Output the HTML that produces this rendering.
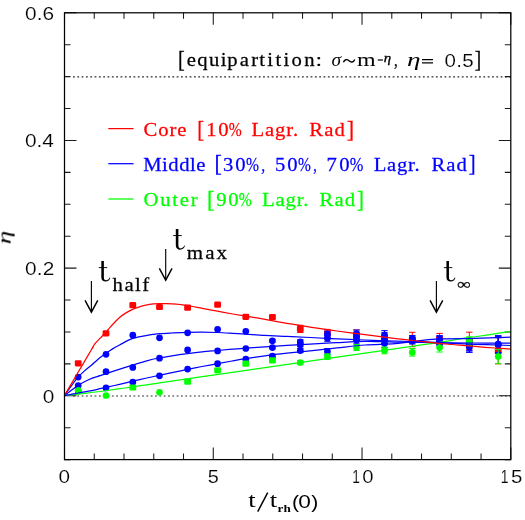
<!DOCTYPE html>
<html><head><meta charset="utf-8"><title>eta vs t</title>
<style>html,body{margin:0;padding:0;background:#fff;}svg{display:block;}</style></head>
<body>
<svg width="525" height="520" viewBox="0 0 525 520">
<rect x="0" y="0" width="525" height="520" fill="#fff"/>
<g style="will-change:opacity" opacity="0.999">
<line x1="73" y1="76.88" x2="510.8" y2="76.88" stroke="#2a2a2a" stroke-width="1.05" stroke-dasharray="1.8 2.52"/>
<line x1="73" y1="396.07" x2="510.8" y2="396.07" stroke="#2a2a2a" stroke-width="1.05" stroke-dasharray="1.8 2.52"/>
<path d="M64.5,459.6v-12M64.5,12.8v12M94.25,459.6v-6M94.25,12.8v6M124.01,459.6v-6M124.01,12.8v6M153.76,459.6v-6M153.76,12.8v6M183.51,459.6v-6M183.51,12.8v6M213.27,459.6v-12M213.27,12.8v12M243.02,459.6v-6M243.02,12.8v6M272.77,459.6v-6M272.77,12.8v6M302.53,459.6v-6M302.53,12.8v6M332.28,459.6v-6M332.28,12.8v6M362.03,459.6v-12M362.03,12.8v12M391.79,459.6v-6M391.79,12.8v6M421.54,459.6v-6M421.54,12.8v6M451.29,459.6v-6M451.29,12.8v6M481.05,459.6v-6M481.05,12.8v6M510.8,459.6v-12M510.8,12.8v12M64.5,459.6h6M510.8,459.6h-6M64.5,427.69h6M510.8,427.69h-6M64.5,395.77h12M510.8,395.77h-12M64.5,363.86h6M510.8,363.86h-6M64.5,331.94h6M510.8,331.94h-6M64.5,300.03h6M510.8,300.03h-6M64.5,268.11h12M510.8,268.11h-12M64.5,236.2h6M510.8,236.2h-6M64.5,204.29h6M510.8,204.29h-6M64.5,172.37h6M510.8,172.37h-6M64.5,140.46h12M510.8,140.46h-12M64.5,108.54h6M510.8,108.54h-6M64.5,76.63h6M510.8,76.63h-6M64.5,44.71h6M510.8,44.71h-6M64.5,12.8h12M510.8,12.8h-12" stroke="#1a1a1a" stroke-width="1.05" fill="none"/>
<rect x="74.8" y="360.2" width="6.8" height="6.2" rx="1.3" fill="#ff0000"/>
<rect x="102.6" y="330.2" width="6.8" height="6.2" rx="1.3" fill="#ff0000"/>
<rect x="129.4" y="302.1" width="6.8" height="6.2" rx="1.3" fill="#ff0000"/>
<rect x="156.1" y="303.9" width="6.8" height="6.2" rx="1.3" fill="#ff0000"/>
<rect x="184.2" y="304.5" width="6.8" height="6.2" rx="1.3" fill="#ff0000"/>
<rect x="214.2" y="301.6" width="6.8" height="6.2" rx="1.3" fill="#ff0000"/>
<rect x="242.4" y="313.7" width="6.8" height="6.2" rx="1.3" fill="#ff0000"/>
<path d="M272.4,315.6V318.6M269.2,315.6h6.4M269.2,318.6h6.4" stroke="#ff0000" stroke-width="1" fill="none"/>
<rect x="269" y="314" width="6.8" height="6.2" rx="1.3" fill="#ff0000"/>
<path d="M300.3,325.3V332.5M297.1,325.3h6.4M297.1,332.5h6.4" stroke="#ff0000" stroke-width="1" fill="none"/>
<rect x="296.9" y="325.8" width="6.8" height="6.2" rx="1.3" fill="#ff0000"/>
<path d="M327.4,329.4V337.4M324.2,329.4h6.4M324.2,337.4h6.4" stroke="#ff0000" stroke-width="1" fill="none"/>
<rect x="324" y="330.3" width="6.8" height="6.2" rx="1.3" fill="#ff0000"/>
<path d="M356.5,329.9V339.1M353.3,329.9h6.4M353.3,339.1h6.4" stroke="#ff0000" stroke-width="1" fill="none"/>
<rect x="353.1" y="331.4" width="6.8" height="6.2" rx="1.3" fill="#ff0000"/>
<path d="M384.5,332.5V343.5M381.3,332.5h6.4M381.3,343.5h6.4" stroke="#ff0000" stroke-width="1" fill="none"/>
<rect x="381.1" y="334.9" width="6.8" height="6.2" rx="1.3" fill="#ff0000"/>
<path d="M412.3,332.3V346.7M409.1,332.3h6.4M409.1,346.7h6.4" stroke="#ff0000" stroke-width="1" fill="none"/>
<rect x="408.9" y="336.4" width="6.8" height="6.2" rx="1.3" fill="#ff0000"/>
<path d="M439.6,333.4V344.6M436.4,333.4h6.4M436.4,344.6h6.4" stroke="#ff0000" stroke-width="1" fill="none"/>
<rect x="436.2" y="335.9" width="6.8" height="6.2" rx="1.3" fill="#ff0000"/>
<path d="M469.3,332.2V349.8M466.1,332.2h6.4M466.1,349.8h6.4" stroke="#ff0000" stroke-width="1" fill="none"/>
<rect x="465.9" y="337.9" width="6.8" height="6.2" rx="1.3" fill="#ff0000"/>
<path d="M498.2,337.8V363.8M495,337.8h6.4M495,363.8h6.4" stroke="#ff0000" stroke-width="1" fill="none"/>
<rect x="494.8" y="347.7" width="6.8" height="6.2" rx="1.3" fill="#ff0000"/>
<circle cx="78.2" cy="377.1" r="3.35" fill="#0000ff"/>
<circle cx="106" cy="354.3" r="3.35" fill="#0000ff"/>
<circle cx="132.8" cy="335.2" r="3.35" fill="#0000ff"/>
<circle cx="159.5" cy="337.8" r="3.35" fill="#0000ff"/>
<circle cx="187.6" cy="332.8" r="3.35" fill="#0000ff"/>
<circle cx="217.6" cy="329.3" r="3.35" fill="#0000ff"/>
<circle cx="245.8" cy="331.3" r="3.35" fill="#0000ff"/>
<path d="M272.4,339.6V342M269.2,339.6h6.4M269.2,342h6.4" stroke="#0000ff" stroke-width="1" fill="none"/>
<circle cx="272.4" cy="340.8" r="3.35" fill="#0000ff"/>
<path d="M300.3,339.9V343.9M297.1,339.9h6.4M297.1,343.9h6.4" stroke="#0000ff" stroke-width="1" fill="none"/>
<circle cx="300.3" cy="341.9" r="3.35" fill="#0000ff"/>
<path d="M327.4,331.2V337.2M324.2,331.2h6.4M324.2,337.2h6.4" stroke="#0000ff" stroke-width="1" fill="none"/>
<circle cx="327.4" cy="334.2" r="3.35" fill="#0000ff"/>
<path d="M356.5,330V337.2M353.3,330h6.4M353.3,337.2h6.4" stroke="#0000ff" stroke-width="1" fill="none"/>
<circle cx="356.5" cy="333.6" r="3.35" fill="#0000ff"/>
<path d="M384.5,330.6V339M381.3,330.6h6.4M381.3,339h6.4" stroke="#0000ff" stroke-width="1" fill="none"/>
<circle cx="384.5" cy="334.8" r="3.35" fill="#0000ff"/>
<path d="M412.3,335.5V341.5M409.1,335.5h6.4M409.1,341.5h6.4" stroke="#0000ff" stroke-width="1" fill="none"/>
<circle cx="412.3" cy="338.5" r="3.35" fill="#0000ff"/>
<path d="M439.6,335.6V344.4M436.4,335.6h6.4M436.4,344.4h6.4" stroke="#0000ff" stroke-width="1" fill="none"/>
<circle cx="439.6" cy="340" r="3.35" fill="#0000ff"/>
<path d="M469.3,341.1V351.9M466.1,341.1h6.4M466.1,351.9h6.4" stroke="#0000ff" stroke-width="1" fill="none"/>
<circle cx="469.3" cy="346.5" r="3.35" fill="#0000ff"/>
<path d="M498.2,335.6V352.4M495,335.6h6.4M495,352.4h6.4" stroke="#0000ff" stroke-width="1" fill="none"/>
<circle cx="498.2" cy="344" r="3.35" fill="#0000ff"/>
<circle cx="78.2" cy="385.5" r="3.35" fill="#0000ff"/>
<circle cx="106" cy="371.7" r="3.35" fill="#0000ff"/>
<circle cx="132.8" cy="367.4" r="3.35" fill="#0000ff"/>
<circle cx="159.5" cy="358.2" r="3.35" fill="#0000ff"/>
<circle cx="187.6" cy="349.9" r="3.35" fill="#0000ff"/>
<circle cx="217.6" cy="350.9" r="3.35" fill="#0000ff"/>
<circle cx="245.8" cy="348.5" r="3.35" fill="#0000ff"/>
<path d="M272.4,346.4V348.8M269.2,346.4h6.4M269.2,348.8h6.4" stroke="#0000ff" stroke-width="1" fill="none"/>
<circle cx="272.4" cy="347.6" r="3.35" fill="#0000ff"/>
<path d="M300.3,342.8V346.8M297.1,342.8h6.4M297.1,346.8h6.4" stroke="#0000ff" stroke-width="1" fill="none"/>
<circle cx="300.3" cy="344.8" r="3.35" fill="#0000ff"/>
<path d="M327.4,335.3V341.3M324.2,335.3h6.4M324.2,341.3h6.4" stroke="#0000ff" stroke-width="1" fill="none"/>
<circle cx="327.4" cy="338.3" r="3.35" fill="#0000ff"/>
<path d="M356.5,333.4V340.6M353.3,333.4h6.4M353.3,340.6h6.4" stroke="#0000ff" stroke-width="1" fill="none"/>
<circle cx="356.5" cy="337" r="3.35" fill="#0000ff"/>
<path d="M384.5,335.8V344.2M381.3,335.8h6.4M381.3,344.2h6.4" stroke="#0000ff" stroke-width="1" fill="none"/>
<circle cx="384.5" cy="340" r="3.35" fill="#0000ff"/>
<path d="M412.3,337V343M409.1,337h6.4M409.1,343h6.4" stroke="#0000ff" stroke-width="1" fill="none"/>
<circle cx="412.3" cy="340" r="3.35" fill="#0000ff"/>
<path d="M439.6,336.1V344.9M436.4,336.1h6.4M436.4,344.9h6.4" stroke="#0000ff" stroke-width="1" fill="none"/>
<circle cx="439.6" cy="340.5" r="3.35" fill="#0000ff"/>
<path d="M469.3,339.6V350.4M466.1,339.6h6.4M466.1,350.4h6.4" stroke="#0000ff" stroke-width="1" fill="none"/>
<circle cx="469.3" cy="345" r="3.35" fill="#0000ff"/>
<path d="M498.2,336.1V352.9M495,336.1h6.4M495,352.9h6.4" stroke="#0000ff" stroke-width="1" fill="none"/>
<circle cx="498.2" cy="344.5" r="3.35" fill="#0000ff"/>
<circle cx="78.2" cy="391" r="3.35" fill="#0000ff"/>
<circle cx="106" cy="387.9" r="3.35" fill="#0000ff"/>
<circle cx="132.8" cy="382.2" r="3.35" fill="#0000ff"/>
<circle cx="159.5" cy="375.8" r="3.35" fill="#0000ff"/>
<circle cx="187.6" cy="369.1" r="3.35" fill="#0000ff"/>
<circle cx="217.6" cy="363.7" r="3.35" fill="#0000ff"/>
<circle cx="245.8" cy="359.2" r="3.35" fill="#0000ff"/>
<path d="M272.4,355V357.4M269.2,355h6.4M269.2,357.4h6.4" stroke="#0000ff" stroke-width="1" fill="none"/>
<circle cx="272.4" cy="356.2" r="3.35" fill="#0000ff"/>
<path d="M300.3,348.6V352.6M297.1,348.6h6.4M297.1,352.6h6.4" stroke="#0000ff" stroke-width="1" fill="none"/>
<circle cx="300.3" cy="350.6" r="3.35" fill="#0000ff"/>
<path d="M327.4,348.5V354.5M324.2,348.5h6.4M324.2,354.5h6.4" stroke="#0000ff" stroke-width="1" fill="none"/>
<circle cx="327.4" cy="351.5" r="3.35" fill="#0000ff"/>
<path d="M356.5,336.6V343.8M353.3,336.6h6.4M353.3,343.8h6.4" stroke="#0000ff" stroke-width="1" fill="none"/>
<circle cx="356.5" cy="340.2" r="3.35" fill="#0000ff"/>
<path d="M384.5,339.3V347.7M381.3,339.3h6.4M381.3,347.7h6.4" stroke="#0000ff" stroke-width="1" fill="none"/>
<circle cx="384.5" cy="343.5" r="3.35" fill="#0000ff"/>
<path d="M412.3,338V344M409.1,338h6.4M409.1,344h6.4" stroke="#0000ff" stroke-width="1" fill="none"/>
<circle cx="412.3" cy="341" r="3.35" fill="#0000ff"/>
<path d="M439.6,336.6V345.4M436.4,336.6h6.4M436.4,345.4h6.4" stroke="#0000ff" stroke-width="1" fill="none"/>
<circle cx="439.6" cy="341" r="3.35" fill="#0000ff"/>
<path d="M469.3,341.6V352.4M466.1,341.6h6.4M466.1,352.4h6.4" stroke="#0000ff" stroke-width="1" fill="none"/>
<circle cx="469.3" cy="347" r="3.35" fill="#0000ff"/>
<path d="M498.2,336.6V353.4M495,336.6h6.4M495,353.4h6.4" stroke="#0000ff" stroke-width="1" fill="none"/>
<circle cx="498.2" cy="345" r="3.35" fill="#0000ff"/>
<circle cx="78.2" cy="390.3" r="3.35" fill="#00ff00"/>
<circle cx="106" cy="395.5" r="3.35" fill="#00ff00"/>
<rect x="129.4" y="384.4" width="6.8" height="6.2" rx="1.3" fill="#00ff00"/>
<circle cx="159.5" cy="392.3" r="3.35" fill="#00ff00"/>
<rect x="184.2" y="378.6" width="6.8" height="6.2" rx="1.3" fill="#00ff00"/>
<rect x="214.2" y="367.2" width="6.8" height="6.2" rx="1.3" fill="#00ff00"/>
<rect x="242.4" y="360.6" width="6.8" height="6.2" rx="1.3" fill="#00ff00"/>
<path d="M272.4,359.2V361.6M269.2,359.2h6.4M269.2,361.6h6.4" stroke="#00ff00" stroke-width="1" fill="none"/>
<rect x="269" y="357.3" width="6.8" height="6.2" rx="1.3" fill="#00ff00"/>
<path d="M300.3,360.5V364.5M297.1,360.5h6.4M297.1,364.5h6.4" stroke="#00ff00" stroke-width="1" fill="none"/>
<circle cx="300.3" cy="362.5" r="3.35" fill="#00ff00"/>
<path d="M327.4,354.1V359.3M324.2,354.1h6.4M324.2,359.3h6.4" stroke="#00ff00" stroke-width="1" fill="none"/>
<circle cx="327.4" cy="356.7" r="3.35" fill="#00ff00"/>
<path d="M356.5,344.5V350.5M353.3,344.5h6.4M353.3,350.5h6.4" stroke="#00ff00" stroke-width="1" fill="none"/>
<circle cx="356.5" cy="347.5" r="3.35" fill="#00ff00"/>
<path d="M384.5,347V353.8M381.3,347h6.4M381.3,353.8h6.4" stroke="#00ff00" stroke-width="1" fill="none"/>
<circle cx="384.5" cy="350.4" r="3.35" fill="#00ff00"/>
<path d="M412.3,348.5V356.1M409.1,348.5h6.4M409.1,356.1h6.4" stroke="#00ff00" stroke-width="1" fill="none"/>
<circle cx="412.3" cy="352.3" r="3.35" fill="#00ff00"/>
<path d="M439.6,343.2V352M436.4,343.2h6.4M436.4,352h6.4" stroke="#00ff00" stroke-width="1" fill="none"/>
<circle cx="439.6" cy="347.6" r="3.35" fill="#00ff00"/>
<path d="M469.3,336.8V345.6M466.1,336.8h6.4M466.1,345.6h6.4" stroke="#00ff00" stroke-width="1" fill="none"/>
<circle cx="469.3" cy="341.2" r="3.35" fill="#00ff00"/>
<path d="M498.2,349.3V363.7M495,349.3h6.4M495,363.7h6.4" stroke="#00ff00" stroke-width="1" fill="none"/>
<circle cx="498.2" cy="356.5" r="3.35" fill="#00ff00"/>
<g fill="none" stroke-width="1.25" stroke-linejoin="round">
<path d="M64.3,395.7C67.25,395.37 76.05,394.4 82,393.7C87.95,393 92.83,392.45 100,391.5C107.17,390.55 116.67,389.2 125,388C133.33,386.8 143.33,385.27 150,384.3C156.67,383.33 154.17,383.78 165,382.2C175.83,380.62 198.33,377.23 215,374.8C231.67,372.37 248.33,370.02 265,367.6C281.67,365.18 298.33,362.7 315,360.3C331.67,357.9 348.33,355.62 365,353.2C381.67,350.78 402.5,347.6 415,345.8C427.5,344 431.67,343.67 440,342.4C448.33,341.13 456.67,339.5 465,338.2C473.33,336.9 482.37,335.73 490,334.6C497.63,333.47 507.33,331.93 510.8,331.4" stroke="#00ff00"/>
<path d="M64.3,395.7C65.42,395.48 68.68,394.85 71,394.4C73.32,393.95 74.75,393.63 78.2,393C81.65,392.37 88.07,391.32 91.7,390.6C95.33,389.88 97.62,389.23 100,388.7C102.38,388.17 102.57,388.17 106,387.4C109.43,386.63 116.15,385.13 120.6,384.1C125.05,383.07 128.33,382.22 132.7,381.2C137.07,380.18 142.42,378.97 146.8,378C151.18,377.03 154.8,376.3 159,375.4C163.2,374.5 167.22,373.62 172,372.6C176.78,371.58 182.7,370.32 187.7,369.3C192.7,368.28 197.02,367.43 202,366.5C206.98,365.57 212.6,364.62 217.6,363.7C222.6,362.78 227.3,361.85 232,361C236.7,360.15 240.3,359.47 245.8,358.6C251.3,357.73 258.13,356.7 265,355.8C271.87,354.9 279.5,354.02 287,353.2C294.5,352.38 301.67,351.78 310,350.9C318.33,350.02 327.83,348.88 337,347.9C346.17,346.92 355.33,345.72 365,345C374.67,344.28 385.83,344.33 395,343.6C404.17,342.87 413.33,341.33 420,340.6C426.67,339.87 430.5,339.5 435,339.2C439.5,338.9 440.33,338.93 447,338.8C453.67,338.67 467,338.58 475,338.4C483,338.22 489.03,337.92 495,337.7C500.97,337.48 508.17,337.2 510.8,337.1" stroke="#0000ff"/>
<path d="M64.3,395.7C65.42,394.83 68.75,392.18 71,390.5C73.25,388.82 75.55,387.05 77.8,385.6C80.05,384.15 82.18,383 84.5,381.8C86.82,380.6 89.12,379.42 91.7,378.4C94.28,377.38 97.62,376.5 100,375.7C102.38,374.9 102.57,374.73 106,373.6C109.43,372.47 116.15,370.32 120.6,368.9C125.05,367.48 128.33,366.45 132.7,365.1C137.07,363.75 142.42,361.98 146.8,360.8C151.18,359.62 154.8,358.83 159,358C163.2,357.17 167.22,356.53 172,355.8C176.78,355.07 182.7,354.25 187.7,353.6C192.7,352.95 197.02,352.42 202,351.9C206.98,351.38 212.6,350.95 217.6,350.5C222.6,350.05 227.3,349.6 232,349.2C236.7,348.8 240.3,348.48 245.8,348.1C251.3,347.72 258.13,347.35 265,346.9C271.87,346.45 279.5,345.85 287,345.4C294.5,344.95 301.67,344.67 310,344.2C318.33,343.73 327.83,343.07 337,342.6C346.17,342.13 355.33,341.48 365,341.4C374.67,341.32 383.33,341.9 395,342.1C406.67,342.3 421.67,342.45 435,342.6C448.33,342.75 462.37,342.92 475,343C487.63,343.08 504.83,343.08 510.8,343.1" stroke="#0000ff"/>
<path d="M64.3,395.7C65.42,394.15 68.75,389.45 71,386.4C73.25,383.35 75.55,379.98 77.8,377.4C80.05,374.82 82.18,372.97 84.5,370.9C86.82,368.83 89.95,366.48 91.7,365C93.45,363.52 93.53,363.28 95,362C96.47,360.72 98.65,358.77 100.5,357.3C102.35,355.83 104.02,354.65 106.1,353.2C108.18,351.75 110.75,349.97 113,348.6C115.25,347.23 117.43,346.2 119.6,345C121.77,343.8 123.8,342.5 126,341.4C128.2,340.3 130.72,339.15 132.8,338.4C134.88,337.65 136.55,337.33 138.5,336.9C140.45,336.47 142.08,336.22 144.5,335.8C146.92,335.38 150.42,334.77 153,334.4C155.58,334.03 156.83,333.83 160,333.6C163.17,333.37 167.38,333.2 172,333C176.62,332.8 182.7,332.53 187.7,332.4C192.7,332.27 197.02,332.18 202,332.2C206.98,332.22 212.48,332.32 217.6,332.5C222.72,332.68 228,333.03 232.7,333.3C237.4,333.57 240.42,333.75 245.8,334.1C251.18,334.45 258.13,335.02 265,335.4C271.87,335.78 279.5,336.05 287,336.4C294.5,336.75 301.67,337.1 310,337.5C318.33,337.9 327.83,338.38 337,338.8C346.17,339.22 355.33,339.63 365,340C374.67,340.37 383.33,340.6 395,341C406.67,341.4 421.67,341.85 435,342.4C448.33,342.95 462.37,343.78 475,344.3C487.63,344.82 504.83,345.3 510.8,345.5" stroke="#0000ff"/>
<path d="M64.3,395.7C66.55,391.88 73.31,380.42 77.8,372.8C82.29,365.18 88.38,354.85 91.25,350C94.12,345.15 93.46,345.72 95,343.7C96.54,341.68 98.66,339.85 100.5,337.9C102.34,335.95 104.48,333.75 106.06,332C107.64,330.25 108.51,329.07 110,327.4C111.49,325.73 113.4,323.67 115,322C116.6,320.33 117.77,318.92 119.6,317.4C121.43,315.88 123.83,314.23 126,312.9C128.17,311.57 130.6,310.33 132.6,309.4C134.6,308.47 136.16,307.93 138,307.3C139.84,306.67 141.9,306.05 143.65,305.6C145.4,305.15 146.89,304.88 148.5,304.6C150.11,304.32 151.38,304.06 153.3,303.9C155.22,303.74 158.05,303.68 160,303.65C161.95,303.62 162.98,303.66 165,303.7C167.02,303.74 169.6,303.77 172.1,303.9C174.6,304.03 177.4,304.23 180,304.5C182.6,304.77 183.97,304.87 187.7,305.5C191.43,306.13 197.42,307.35 202.4,308.3C207.38,309.25 212.55,310.25 217.6,311.2C222.65,312.15 228,313.17 232.7,314C237.4,314.83 242.08,315.6 245.8,316.2C249.52,316.8 251.8,317.07 255,317.6C258.2,318.13 259.67,318.45 265,319.4C270.33,320.35 279.5,322.02 287,323.3C294.5,324.58 301.67,325.82 310,327.1C318.33,328.38 327.83,329.73 337,331C346.17,332.27 355.83,333.5 365,334.7C374.17,335.9 384.15,337.23 392,338.2C399.85,339.17 406.6,339.9 412.1,340.5C417.6,341.1 419.35,341.22 425,341.8C430.65,342.38 439.33,343.37 446,344C452.67,344.63 459.33,345.12 465,345.6C470.67,346.08 475,346.5 480,346.9C485,347.3 489.87,347.63 495,348C500.13,348.37 508.17,348.92 510.8,349.1" stroke="#ff0000"/>
</g>
<rect x="64.5" y="12.8" width="446.3" height="446.8" fill="none" stroke="#000" stroke-width="1.25"/>
<text transform="translate(25.08,19.8) scale(1.180,1)" font-family="'Liberation Sans', sans-serif" font-size="17.7" stroke="#fff" stroke-width="0.14" fill="#000">0.6</text>
<text transform="translate(25.08,147.46) scale(1.180,1)" font-family="'Liberation Sans', sans-serif" font-size="17.7" stroke="#fff" stroke-width="0.14" fill="#000" style="letter-spacing:-0.13px">0.4</text>
<text transform="translate(25.08,275.11) scale(1.180,1)" font-family="'Liberation Sans', sans-serif" font-size="17.7" stroke="#fff" stroke-width="0.14" fill="#000" style="letter-spacing:0.06px">0.2</text>
<text transform="translate(42.78,402.77) scale(1.180,1)" font-family="'Liberation Sans', sans-serif" font-size="17.7" stroke="#fff" stroke-width="0.14" fill="#000">0</text>
<text transform="translate(58.49,482.7) scale(1.170,1)" font-family="'Liberation Sans', sans-serif" font-size="17.7" stroke="#fff" stroke-width="0.14" fill="#000">0</text>
<text transform="translate(207.81,482.7) scale(1.120,1)" font-family="'Liberation Sans', sans-serif" font-size="17.7" stroke="#fff" stroke-width="0.14" fill="#000">5</text>
<text transform="translate(352.36,482.7) scale(0.773,1)" font-family="'Liberation Sans', sans-serif" font-size="17.7" stroke="#fff" stroke-width="0.14" fill="#000">1</text>
<text transform="translate(362.31,482.7) scale(1.146,1)" font-family="'Liberation Sans', sans-serif" font-size="17.7" stroke="#fff" stroke-width="0.14" fill="#000">0</text>
<text transform="translate(500.84,482.7) scale(0.786,1)" font-family="'Liberation Sans', sans-serif" font-size="17.7" stroke="#fff" stroke-width="0.14" fill="#000">1</text>
<text transform="translate(510.88,482.7) scale(1.156,1)" font-family="'Liberation Sans', sans-serif" font-size="17.7" stroke="#fff" stroke-width="0.14" fill="#000">5</text>
<text transform="translate(178.1,67) scale(1.036,1.19)" font-family="'Liberation Serif', serif" font-size="19.5" stroke="#000" stroke-width="0.25" fill="#000">[</text>
<text transform="translate(186.69,66.4) scale(1.060,1)" font-family="'Liberation Serif', serif" font-size="19.5" stroke="#000" stroke-width="0.25" fill="#000" style="letter-spacing:1.33px">equi</text>
<text transform="translate(227.27,66.4) scale(1.060,1)" font-family="'Liberation Serif', serif" font-size="19.5" stroke="#000" stroke-width="0.25" fill="#000" style="letter-spacing:2.13px">par</text>
<text transform="translate(259.3,66.4) scale(1.060,1)" font-family="'Liberation Serif', serif" font-size="19.5" stroke="#000" stroke-width="0.25" fill="#000" style="letter-spacing:2.2px">tition</text>
<text transform="translate(315.65,66.4) scale(1.133,1)" font-family="'Liberation Serif', serif" font-size="19.5" stroke="#000" stroke-width="0.25" fill="#000">:</text>
<text transform="translate(331.52,66.4) scale(0.994,1)" font-family="'Liberation Serif', serif" font-size="19.5" font-style="italic" fill="#000">&#963;</text>
<path d="M343.4,62.3C344.6,59.2 346.9,58.9 349,60.8C351.1,62.7 353.5,62.5 354.7,59.4" fill="none" stroke="#000" stroke-width="1.45"/>
<text transform="translate(357,66.4) scale(1.232,1)" font-family="'Liberation Serif', serif" font-size="19.5" fill="#000">m</text>
<path d="M377.7,60.0H382.9" stroke="#000" stroke-width="1.2"/>
<text transform="translate(383.67,61.7) scale(1.287,1)" font-family="'Liberation Serif', serif" font-size="11.5" font-style="italic" stroke="#000" stroke-width="0.3" fill="#000">&#951;</text>
<text transform="translate(393.94,66.4) scale(0.758,1)" font-family="'Liberation Serif', serif" font-size="19.5" stroke="#000" stroke-width="0.25" fill="#000">,</text>
<text transform="translate(406.93,66.4) scale(1.237,0.85)" font-family="'Liberation Serif', serif" font-size="22" font-style="italic" fill="#000">&#951;</text>
<path d="M422,59.7H433M422,62.9H433" stroke="#000" stroke-width="1.3"/>
<text transform="translate(444.5,66.5) scale(1.160,1)" font-family="'Liberation Sans', sans-serif" font-size="17.7" stroke="#fff" stroke-width="0.14" fill="#000" style="letter-spacing:0.27px">0.5</text>
<text transform="translate(474.7,67) scale(0.990,1.19)" font-family="'Liberation Serif', serif" font-size="19.5" stroke="#000" stroke-width="0.25" fill="#000">]</text>
<path d="M108.3,128.6H133.6" stroke="#ff0000" stroke-width="1.25"/>
<path d="M108.3,163.7H133.6" stroke="#0000ff" stroke-width="1.25"/>
<path d="M108.3,199.0H133.6" stroke="#00ff00" stroke-width="1.25"/>
<text transform="translate(143.45,136.2) scale(1.060,1)" font-family="'Liberation Serif', serif" font-size="19.5" stroke="#ff0000" stroke-width="0.25" fill="#ff0000" style="letter-spacing:0.88px">Core</text>
<text transform="translate(206.18,136.2) scale(1.060,1)" font-family="'Liberation Serif', serif" font-size="19.5" stroke="#ff0000" stroke-width="0.25" fill="#ff0000" style="letter-spacing:1.64px">10</text>
<text transform="translate(228.77,136.2) scale(0.798,1)" font-family="'Liberation Serif', serif" font-size="19.5" stroke="#ff0000" stroke-width="0.25" fill="#ff0000">%</text>
<text transform="translate(251.6,136.2) scale(1.060,1)" font-family="'Liberation Serif', serif" font-size="19.5" stroke="#ff0000" stroke-width="0.25" fill="#ff0000" style="letter-spacing:0.82px">Lagr.</text>
<text transform="translate(309.2,136.2) scale(1.060,1)" font-family="'Liberation Serif', serif" font-size="19.5" stroke="#ff0000" stroke-width="0.25" fill="#ff0000" style="letter-spacing:1.11px">Rad</text>
<text transform="translate(197.27,136.7) scale(1.059,1.19)" font-family="'Liberation Serif', serif" font-size="19.5" stroke="#ff0000" stroke-width="0.25" fill="#ff0000">[</text>
<text transform="translate(346.8,136.7) scale(1.129,1.19)" font-family="'Liberation Serif', serif" font-size="19.5" stroke="#ff0000" stroke-width="0.25" fill="#ff0000">]</text>
<text transform="translate(143.2,170.7) scale(1.060,1)" font-family="'Liberation Serif', serif" font-size="19.5" stroke="#0000ff" stroke-width="0.25" fill="#0000ff" style="letter-spacing:0.49px">Middle</text>
<text transform="translate(223.01,170.7) scale(1.060,1)" font-family="'Liberation Serif', serif" font-size="19.5" stroke="#0000ff" stroke-width="0.25" fill="#0000ff" style="letter-spacing:1.7px">30</text>
<text transform="translate(246.07,170.7) scale(0.798,1)" font-family="'Liberation Serif', serif" font-size="19.5" stroke="#0000ff" stroke-width="0.25" fill="#0000ff">%</text>
<text transform="translate(261.21,170.7) scale(0.792,1)" font-family="'Liberation Serif', serif" font-size="19.5" stroke="#0000ff" stroke-width="0.25" fill="#0000ff">,</text>
<text transform="translate(274.9,170.7) scale(1.060,1)" font-family="'Liberation Serif', serif" font-size="19.5" stroke="#0000ff" stroke-width="0.25" fill="#0000ff" style="letter-spacing:1.81px">50</text>
<text transform="translate(298.07,170.7) scale(0.791,1)" font-family="'Liberation Serif', serif" font-size="19.5" stroke="#0000ff" stroke-width="0.25" fill="#0000ff">%</text>
<text transform="translate(313.36,170.7) scale(0.723,1)" font-family="'Liberation Serif', serif" font-size="19.5" stroke="#0000ff" stroke-width="0.25" fill="#0000ff">,</text>
<text transform="translate(326.54,170.7) scale(1.060,1)" font-family="'Liberation Serif', serif" font-size="19.5" stroke="#0000ff" stroke-width="0.25" fill="#0000ff" style="letter-spacing:2.34px">70</text>
<text transform="translate(349.84,170.7) scale(0.838,1)" font-family="'Liberation Serif', serif" font-size="19.5" stroke="#0000ff" stroke-width="0.25" fill="#0000ff">%</text>
<text transform="translate(373.7,170.7) scale(1.060,1)" font-family="'Liberation Serif', serif" font-size="19.5" stroke="#0000ff" stroke-width="0.25" fill="#0000ff" style="letter-spacing:0.7px">Lagr.</text>
<text transform="translate(431.5,170.7) scale(1.060,1)" font-family="'Liberation Serif', serif" font-size="19.5" stroke="#0000ff" stroke-width="0.25" fill="#0000ff" style="letter-spacing:1.01px">Rad</text>
<text transform="translate(214.47,171.2) scale(1.129,1.19)" font-family="'Liberation Serif', serif" font-size="19.5" stroke="#0000ff" stroke-width="0.25" fill="#0000ff">[</text>
<text transform="translate(468.65,171.2) scale(1.059,1.19)" font-family="'Liberation Serif', serif" font-size="19.5" stroke="#0000ff" stroke-width="0.25" fill="#0000ff">]</text>
<text transform="translate(143.45,206.3) scale(1.060,1)" font-family="'Liberation Serif', serif" font-size="19.5" stroke="#00ff00" stroke-width="0.25" fill="#00ff00" style="letter-spacing:1.71px">Outer</text>
<text transform="translate(216.23,206.3) scale(1.060,1)" font-family="'Liberation Serif', serif" font-size="19.5" stroke="#00ff00" stroke-width="0.25" fill="#00ff00" style="letter-spacing:1.59px">90</text>
<text transform="translate(238.77,206.3) scale(0.798,1)" font-family="'Liberation Serif', serif" font-size="19.5" stroke="#00ff00" stroke-width="0.25" fill="#00ff00">%</text>
<text transform="translate(262,206.3) scale(1.060,1)" font-family="'Liberation Serif', serif" font-size="19.5" stroke="#00ff00" stroke-width="0.25" fill="#00ff00" style="letter-spacing:0.82px">Lagr.</text>
<text transform="translate(319.6,206.3) scale(1.060,1)" font-family="'Liberation Serif', serif" font-size="19.5" stroke="#00ff00" stroke-width="0.25" fill="#00ff00" style="letter-spacing:1.01px">Rad</text>
<text transform="translate(207,206.8) scale(1.175,1.19)" font-family="'Liberation Serif', serif" font-size="19.5" stroke="#00ff00" stroke-width="0.25" fill="#00ff00">[</text>
<text transform="translate(357.05,206.8) scale(1.059,1.19)" font-family="'Liberation Serif', serif" font-size="19.5" stroke="#00ff00" stroke-width="0.25" fill="#00ff00">]</text>
<path d="M175.8,228.9L175.8,245.3C175.8,248.4 177.6,249.7 180.1,249.7C182.7,249.7 184.4,248.1 185,245.8L184.2,245.6C183.6,247.4 182.3,248.4 180.6,248.4C179,248.4 178.4,247.4 178.4,245.1L178.4,228.9Z" fill="#000"/><path d="M173.2,235.1H181.8V236.05H173.2Z" fill="#000"/>
<path d="M101.32,261.1L101.32,277.18C101.32,280.23 103.09,281.5 105.54,281.5C108.09,281.5 109.76,279.93 110.35,277.68L109.56,277.48C108.97,279.24 107.7,280.23 106.03,280.23C104.46,280.23 103.88,279.24 103.88,276.99L103.88,261.1Z" fill="#000"/><path d="M98.77,267.18H107.21V268.11H98.77Z" fill="#000"/>
<path d="M446.43,261.1L446.43,277.18C446.43,280.23 448.19,281.5 450.64,281.5C453.19,281.5 454.86,279.93 455.45,277.68L454.66,277.48C454.07,279.24 452.8,280.23 451.13,280.23C449.56,280.23 448.97,279.24 448.97,276.99L448.97,261.1Z" fill="#000"/><path d="M443.88,267.18H452.31V268.11H443.88Z" fill="#000"/>
<text transform="translate(186.76,258.7) scale(1.060,1)" font-family="'Liberation Serif', serif" font-size="19.8" stroke="#000" stroke-width="0.25" fill="#000" style="letter-spacing:1.96px">max</text>
<text transform="translate(112.6,290.5) scale(1.060,1)" font-family="'Liberation Serif', serif" font-size="19.6" stroke="#000" stroke-width="0.25" fill="#000" style="letter-spacing:1.32px">half</text>
<text transform="translate(457.19,289.3) scale(1.266,1)" font-family="'Liberation Serif', serif" font-size="15" stroke="#000" stroke-width="0.25" fill="#000">&#8734;</text>
<path d="M91.4,281V312.3" fill="none" stroke="#000" stroke-width="1.15"/><path d="M85.05,300.3L91.4,312.1L97.75,300.3" fill="none" stroke="#000" stroke-width="1.45" stroke-linejoin="miter" stroke-miterlimit="10"/>
<path d="M165.7,249V280.3" fill="none" stroke="#000" stroke-width="1.15"/><path d="M159.35,268.3L165.7,280.1L172.05,268.3" fill="none" stroke="#000" stroke-width="1.45" stroke-linejoin="miter" stroke-miterlimit="10"/>
<path d="M436.4,281V312.3" fill="none" stroke="#000" stroke-width="1.15"/><path d="M430.05,300.3L436.4,312.1L442.75,300.3" fill="none" stroke="#000" stroke-width="1.45" stroke-linejoin="miter" stroke-miterlimit="10"/>
<text transform="translate(10.6,244.3) rotate(-90) scale(1.4,1)" font-family="'Liberation Serif', serif" font-size="19.5" font-style="italic" fill="#000">&#951;</text>
<text transform="translate(248.2,507.4) scale(1.3,1)" font-family="'Liberation Serif', serif" font-size="20.5" fill="#000">t</text>
<path d="M257.7,511.6L267.7,492.7" stroke="#000" stroke-width="1.5" fill="none"/>
<text transform="translate(269.7,507.4) scale(1.3,1)" font-family="'Liberation Serif', serif" font-size="20.5" fill="#000">t</text>
<text transform="translate(277.6,512.4) scale(1.22,1)" font-family="'Liberation Serif', serif" font-size="10.8" font-weight="bold" fill="#000">rh</text>
<text transform="translate(292,507.5) scale(1.1,1)" font-family="'Liberation Sans', sans-serif" font-size="19.2" fill="#000">(</text>
<text transform="translate(298.2,507.5) scale(1.18,1)" font-family="'Liberation Sans', sans-serif" font-size="19.2" fill="#000">0</text>
<text transform="translate(311.2,507.5) scale(1.1,1)" font-family="'Liberation Sans', sans-serif" font-size="19.2" fill="#000">)</text>
</g>
</svg>
</body></html>
